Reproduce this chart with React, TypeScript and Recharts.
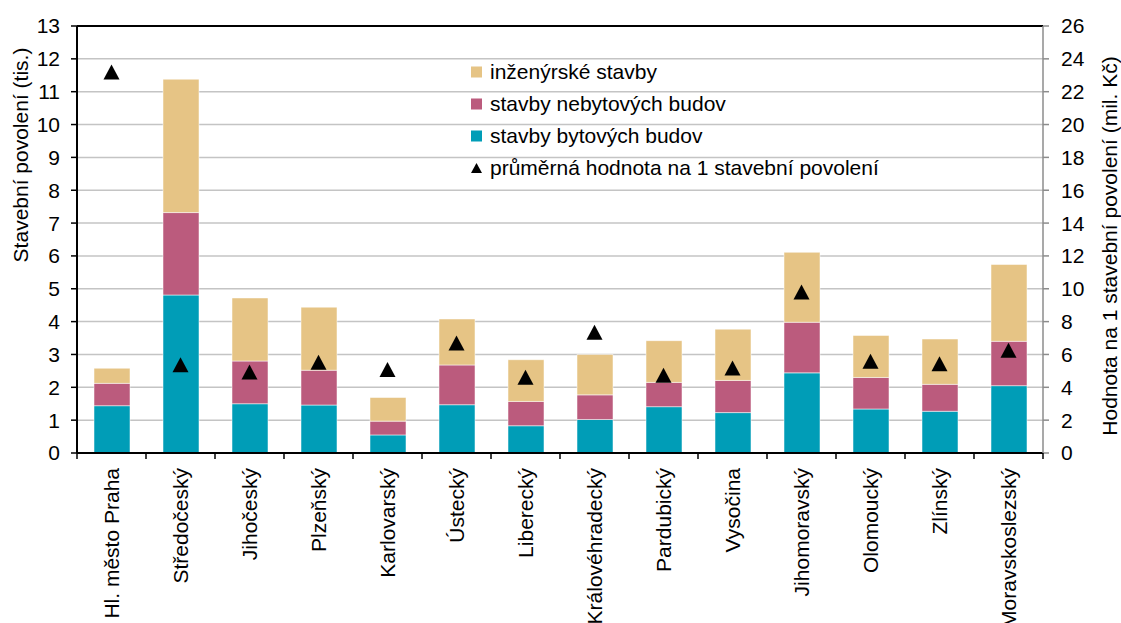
import { ComposedChart, Bar, Scatter, XAxis, YAxis, CartesianGrid, Legend, ReferenceLine, Label } from 'recharts';

const regions = [
  'Hl. město Praha', 'Středočeský', 'Jihočeský', 'Plzeňský', 'Karlovarský', 'Ústecký', 'Liberecký',
  'Královéhradecký', 'Pardubický', 'Vysočina', 'Jihomoravský', 'Olomoucký', 'Zlínský', 'Moravskoslezský',
];
// stavební povolení (tis.), stacked
const bytove = [1.44, 4.81, 1.5, 1.46, 0.55, 1.47, 0.83, 1.02, 1.41, 1.23, 2.44, 1.34, 1.27, 2.05];
const nebytove = [0.68, 2.51, 1.3, 1.06, 0.42, 1.21, 0.74, 0.75, 0.74, 0.98, 1.54, 0.96, 0.82, 1.35];
const inzenyrske = [0.46, 4.06, 1.92, 1.92, 0.72, 1.4, 1.27, 1.23, 1.27, 1.56, 2.13, 1.28, 1.38, 2.34];
// průměrná hodnota (mil. Kč), right axis
const prumer = [23.2, 5.38, 4.93, 5.52, 5.08, 6.7, 4.61, 7.35, 4.73, 5.18, 9.8, 5.58, 5.44, 6.25];

const leftTicks = [0, 1, 2, 3, 4, 5, 6, 7, 8, 9, 10, 11, 12, 13];
const rightTicks = [0, 2, 4, 6, 8, 10, 12, 14, 16, 18, 20, 22, 24, 26];

const data = regions.map((region, i) => ({
  region,
  bytove: bytove[i],
  nebytove: nebytove[i],
  inzenyrske: inzenyrske[i],
  prumer: prumer[i],
}));

const FONT = '"Liberation Sans", Arial, sans-serif';
const FS = 21;
const TEAL = '#009db7';
const PINK = '#bb5b7d';
const YELLOW = '#e6c485';
const HALF_CAT = (1043 - 77) / regions.length / 2;
const legendOrder = ['inzenyrske', 'nebytove', 'bytove', 'prumer'];

function RegionTick(props: any) {
  const { x, y, payload, index } = props;
  return (
    <g>
      <line x1={x - HALF_CAT} y1={y} x2={x - HALF_CAT} y2={y + 6} stroke="#000" strokeWidth={1.5} />
      {index === regions.length - 1 && (
        <line x1={x + HALF_CAT} y1={y} x2={x + HALF_CAT} y2={y + 6} stroke="#000" strokeWidth={1.5} />
      )}
      <text
        transform={`translate(${x},${y + 15}) rotate(-90)`}
        textAnchor="end"
        dominantBaseline="central"
        fontSize={FS}
        fontFamily={FONT}
        fill="#000"
      >
        {payload.value}
      </text>
    </g>
  );
}

function Triangle(props: any) {
  const { cx, cy } = props;
  if (cx == null || cy == null) return null;
  return <polygon points={`${cx},${cy - 7.5} ${cx + 8},${cy + 7.5} ${cx - 8},${cy + 7.5}`} fill="#000" />;
}

function LegendBox(props: any) {
  const items = [...(props.payload || [])].sort(
    (a: any, b: any) => legendOrder.indexOf(a.dataKey) - legendOrder.indexOf(b.dataKey)
  );
  return (
    <div style={{ fontFamily: FONT, fontSize: FS, color: '#000' }}>
      {items.map((it: any) => (
        <div key={it.dataKey} style={{ display: 'flex', alignItems: 'center', height: 32, whiteSpace: 'nowrap' }}>
          <svg width={15} height={12} style={{ marginRight: 4 }}>
            {it.dataKey === 'prumer' ? (
              <polygon points="5.5,1 11,11 0,11" fill="#000" />
            ) : (
              <rect x={0} y={0.5} width={11} height={11} fill={it.color} />
            )}
          </svg>
          <span>{it.value}</span>
        </div>
      ))}
    </div>
  );
}

function LeftTitle() {
  return (
    <text transform="translate(20,155) rotate(-90)" textAnchor="middle" dominantBaseline="central"
      fontSize={FS} fontFamily={FONT} fill="#000">
      Stavební povolení (tis.)
    </text>
  );
}

function RightTitle() {
  return (
    <text transform="translate(1109,246) rotate(-90)" textAnchor="middle" dominantBaseline="central"
      fontSize={FS} fontFamily={FONT} fill="#000">
      Hodnota na 1 stavební povolení (mil. Kč)
    </text>
  );
}

export default function App() {
  return (
    <div style={{ position: 'absolute', left: 0, top: 0, width: 1121, height: 623, background: '#fff' }}>
      <ComposedChart width={1121} height={623} data={data} margin={{ top: 26, right: 0, bottom: 0, left: 0 }} barSize={36}>
        <CartesianGrid yAxisId="left" vertical={false} stroke="#c4c4c4" strokeWidth={1.5} />
        <XAxis
          dataKey="region"
          interval={0}
          height={170}
          tickSize={0}
          tickMargin={0}
          tickLine={false}
          tick={<RegionTick />}
          axisLine={{ stroke: '#000', strokeWidth: 2 }}
        />
        <YAxis
          yAxisId="left"
          width={77}
          domain={[0, 13]}
          ticks={leftTicks}
          interval={0}
          tickSize={6}
          tickMargin={11}
          axisLine={{ stroke: '#000', strokeWidth: 2 }}
          tickLine={{ stroke: '#000', strokeWidth: 1.5 }}
          tick={{ fontSize: FS, fontFamily: FONT, fill: '#000' }}
        >
          <Label content={<LeftTitle />} />
        </YAxis>
        <YAxis
          yAxisId="right"
          orientation="right"
          width={78}
          domain={[0, 26]}
          ticks={rightTicks}
          interval={0}
          tickSize={6}
          tickMargin={12}
          axisLine={{ stroke: '#8c8c8c', strokeWidth: 1.5 }}
          tickLine={{ stroke: '#8c8c8c', strokeWidth: 1.5 }}
          tick={{ fontSize: FS, fontFamily: FONT, fill: '#000' }}
        >
          <Label content={<RightTitle />} />
        </YAxis>
        <ReferenceLine yAxisId="left" y={13} stroke="#000" strokeWidth={2} />
        <Legend
          layout="vertical"
          align="center"
          verticalAlign="middle"
          content={<LegendBox />}
          wrapperStyle={{ position: 'absolute', left: 471, top: 56, width: 'auto' }}
        />
        <Bar yAxisId="left" dataKey="bytove" name="stavby bytových budov" stackId="a" fill={TEAL}
          stroke="#ffffff" strokeOpacity={0.5} strokeWidth={1} isAnimationActive={false} />
        <Bar yAxisId="left" dataKey="nebytove" name="stavby nebytových budov" stackId="a" fill={PINK}
          stroke="#ffffff" strokeOpacity={0.5} strokeWidth={1} isAnimationActive={false} />
        <Bar yAxisId="left" dataKey="inzenyrske" name="inženýrské stavby" stackId="a" fill={YELLOW}
          stroke="#ffffff" strokeOpacity={0.5} strokeWidth={1} isAnimationActive={false} />
        <Scatter yAxisId="right" dataKey="prumer" name="průměrná hodnota na 1 stavební povolení" fill="#000"
          shape={<Triangle />} isAnimationActive={false} />
      </ComposedChart>
    </div>
  );
}
